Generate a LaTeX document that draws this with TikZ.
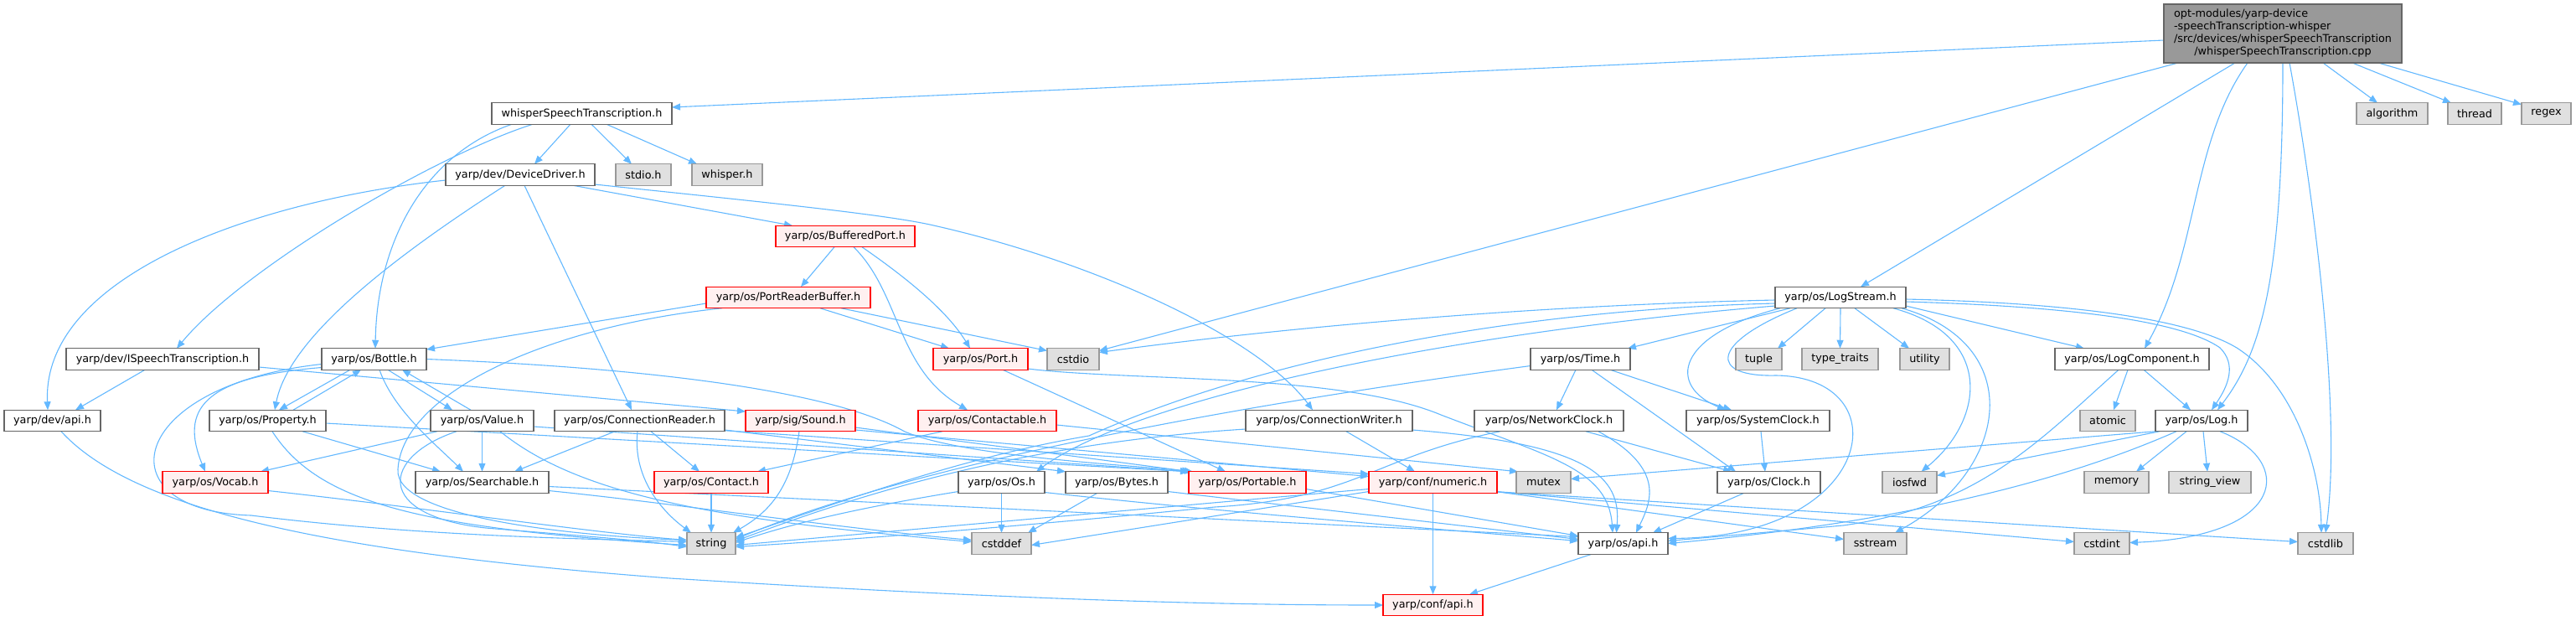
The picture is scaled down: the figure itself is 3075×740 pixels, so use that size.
\documentclass[tikz,border=0pt]{standalone}
\usepackage{fontspec}
\newfontfamily\djv{DejaVu Sans}
\usetikzlibrary{arrows.meta,calc}
\pgfdeclarelayer{edges}
\pgfsetlayers{edges,main}
\definecolor{eb}{HTML}{63B8FF}
\definecolor{gA}{HTML}{666666}
\definecolor{gB}{HTML}{999999}
\definecolor{gC}{HTML}{E0E0E0}
\definecolor{rf}{HTML}{FFF0F0}
\definecolor{rb}{HTML}{FF0000}
\tikzset{
  nbase/.style={rectangle, line width=1.2pt, minimum height=25.5pt, inner sep=0pt, outer sep=0pt,
    font=\djv\fontsize{12.8}{15}\selectfont, text=black},
  nd/.style={nbase, draw=gA, fill=white},
  ext/.style={nbase, draw=gB, fill=gC},
  trn/.style={nbase, draw=rb, fill=rf},
  edg/.style={draw=eb, line width=1.1pt, -{Triangle[length=10pt,width=8pt]}},
}
\begin{document}
\begin{tikzpicture}[x=1pt,y=-1pt]
\useasboundingbox (0,0) rectangle (3075,740);
% nodes
\node[nbase, draw=gA, fill=gB, minimum width=284pt, minimum height=70pt] (main) at (2725,40)
 {\begin{tabular}{@{}l@{}}opt-modules/yarp-device\\-speechTranscription-whisper\\/src/devices/whisperSpeechTranscription\\\multicolumn{1}{@{}c@{}}{/whisperSpeechTranscription.cpp}\end{tabular}};
\node[nd, minimum width=215pt] (wst) at (694.5,135.5) {whisperSpeechTranscription.h};
\node[ext, minimum width=85pt] (algorithm) at (2855.5,135.5) {algorithm};
\node[ext, minimum width=64pt] (thread) at (2954,135.5) {thread};
\node[ext, minimum width=59pt] (regex) at (3039.5,135.5) {regex};
\node[nd, minimum width=178pt] (DD) at (621,208.5) {yarp/dev/DeviceDriver.h};
\node[ext, minimum width=66pt] (stdio) at (768,208.5) {stdio.h};
\node[ext, minimum width=84pt] (whisper) at (868,208.5) {whisper.h};
\node[trn, minimum width=166pt] (BP) at (1009,282) {yarp/os/BufferedPort.h};
\node[trn, minimum width=196pt] (PRB) at (941,355) {yarp/os/PortReaderBuffer.h};
\node[nd, minimum width=156pt] (LS) at (2197,355) {yarp/os/LogStream.h};
\node[nd, minimum width=230pt] (IST) at (194,428.5) {yarp/dev/ISpeechTranscription.h};
\node[nd, minimum width=125pt] (Bottle) at (446.5,428.5) {yarp/os/Bottle.h};
\node[trn, minimum width=113pt] (Port) at (1170.5,428.5) {yarp/os/Port.h};
\node[ext, minimum width=62pt] (cstdio) at (1281,428.5) {cstdio};
\node[nd, minimum width=119pt] (Time) at (1886.5,428.5) {yarp/os/Time.h};
\node[ext, minimum width=55pt] (tuple) at (2099.5,428.5) {tuple};
\node[ext, minimum width=91pt] (tt) at (2196.5,428.5) {type\_traits};
\node[ext, minimum width=59pt] (utility) at (2297.5,428.5) {utility};
\node[nd, minimum width=184pt] (LC) at (2545,428.5) {yarp/os/LogComponent.h};
\node[nd, minimum width=115pt] (devapi) at (62.5,502) {yarp/dev/api.h};
\node[nd, minimum width=139pt] (Property) at (319.5,502) {yarp/os/Property.h};
\node[nd, minimum width=123pt] (Value) at (575.5,502) {yarp/os/Value.h};
\node[nd, minimum width=203pt] (CR) at (763.5,502) {yarp/os/ConnectionReader.h};
\node[trn, minimum width=131pt] (Sound) at (955.5,502) {yarp/sig/Sound.h};
\node[trn, minimum width=165pt] (Ctb) at (1178.5,502) {yarp/os/Contactable.h};
\node[nd, minimum width=199pt] (CW) at (1586.5,502) {yarp/os/ConnectionWriter.h};
\node[nd, minimum width=178pt] (NC) at (1849,502) {yarp/os/NetworkClock.h};
\node[nd, minimum width=171pt] (SC) at (2098.5,502) {yarp/os/SystemClock.h};
\node[ext, minimum width=66pt] (atomic) at (2516,502) {atomic};
\node[nd, minimum width=110pt] (Log) at (2628,502) {yarp/os/Log.h};
\node[trn, minimum width=126pt] (Vocab) at (257,575.5) {yarp/os/Vocab.h};
\node[nd, minimum width=159pt] (Srch) at (575.5,575.5) {yarp/os/Searchable.h};
\node[trn, minimum width=136pt] (Contact) at (849,575.5) {yarp/os/Contact.h};
\node[nd, minimum width=103pt] (Os) at (1195.5,575.5) {yarp/os/Os.h};
\node[nd, minimum width=122pt] (Bytes) at (1333,575.5) {yarp/os/Bytes.h};
\node[trn, minimum width=140pt] (Portable) at (1489,575.5) {yarp/os/Portable.h};
\node[trn, minimum width=153pt] (numeric) at (1710.5,575.5) {yarp/conf/numeric.h};
\node[ext, minimum width=65pt] (mutex) at (1842.5,575.5) {mutex};
\node[nd, minimum width=123pt] (Clock) at (2111.5,575.5) {yarp/os/Clock.h};
\node[ext, minimum width=65pt] (iosfwd) at (2279.5,575.5) {iosfwd};
\node[ext, minimum width=77pt] (memory) at (2526.5,575.5) {memory};
\node[ext, minimum width=98pt] (sv) at (2638,575.5) {string\_view};
\node[ext, minimum width=58pt] (string) at (849,648.5) {string};
\node[ext, minimum width=71pt] (cstddef) at (1195.5,648.5) {cstddef};
\node[nd, minimum width=107pt] (osapi) at (1937.5,648.5) {yarp/os/api.h};
\node[ext, minimum width=75pt] (sstream) at (2238.5,648.5) {sstream};
\node[ext, minimum width=66pt] (cstdint) at (2509,648.5) {cstdint};
\node[ext, minimum width=66pt] (cstdlib) at (2776,648.5) {cstdlib};
\node[trn, minimum width=119pt] (confapi) at (1710.5,722) {yarp/conf/api.h};
% edges
\begin{pgfonlayer}{edges}
% main
\draw[edg] ($(main.west)+(0,8)$) -- ($(wst.east)+(0,-7.5)$);
\draw[edg] ($(main.south)+(48,0)$) -- ($(algorithm.north)+(-17.5,0)$);
\draw[edg] ($(main.south)+(83,0)$) -- ($(thread.north west)+(4,0)$);
\draw[edg] ($(main.south)+(114,0)$) -- ($(regex.north west)+(0,2)$);
\draw[edg] ($(main.south)+(-125,0)$) -- ($(cstdio.east)+(0,-10)$);
\draw[edg] ($(main.south)+(-57,0)$) -- ($(LS.north)+(24,0)$);
\draw[edg] ($(main.south)+(-42,0)$) .. controls (2615,170) and (2625,300) .. ($(LC.north)+(15,0)$);
\draw[edg] (main.south) .. controls (2725,330) and (2700,420) .. ($(Log.north)+(19,0)$);
\draw[edg] ($(main.south)+(8,0)$) .. controls (2765,250) and (2795,500) .. (cstdlib.north);
% wst
\draw[edg] ($(wst.south)+(-13.5,0)$) -- ($(DD.north)+(17,0)$);
\draw[edg] ($(wst.south)+(11.5,0)$) -- ($(stdio.north)+(-14,0)$);
\draw[edg] ($(wst.south)+(29.5,0)$) -- ($(whisper.north west)+(6,0)$);
\draw[edg] ($(wst.south)+(-58.5,0)$) .. controls (520,185) and (290,320) .. ($(IST.north)+(17,0)$);
\draw[edg] ($(wst.south)+(-83.5,0)$) .. controls (505,185) and (450,290) .. ($(Bottle.north)+(1.5,0)$);
% DeviceDriver
\draw[edg] ($(DD.west)+(0,6.5)$) .. controls (300,240) and (50,330) .. ($(devapi.north)+(-5.5,0)$);
\draw[edg] ($(DD.south)+(-18,0)$) .. controls (480,300) and (345,400) .. ($(Property.north)+(8.5,0)$);
\draw[edg] ($(DD.south)+(5,0)$) -- ($(CR.north)+(-9.5,0)$);
\draw[edg] ($(DD.south)+(63,0)$) -- ($(BP.north west)+(20,0)$);
\draw[edg] ($(DD.east)+(0,11.5)$) .. controls (900,240) and (1050,255) .. (1110,268) .. controls (1300,310) and (1500,400) .. ($(CW.north)+(-19.5,0)$);
% BufferedPort
\draw[edg] ($(BP.south)+(-13,0)$) -- ($(PRB.north)+(15,0)$);
\draw[edg] ($(BP.south)+(20,0)$) .. controls (1080,330) and (1130,370) .. ($(Port.north)+(-12.5,0)$);
\draw[edg] ($(BP.south)+(10,0)$) .. controls (1075,350) and (1070,440) .. ($(Ctb.north)+(-23.5,0)$);
% PortReaderBuffer
\draw[edg] ($(PRB.west)+(0,7)$) -- ($(Bottle.east)+(0,-11.5)$);
\draw[edg] ($(PRB.south)+(-79,0)$) .. controls (650,390) and (480,470) .. (475,560) .. controls (470,620) and (700,640) .. ($(string.west)+(0,-4)$);
\draw[edg] ($(PRB.south)+(38,0)$) -- ($(Port.north west)+(19,0)$);
\draw[edg] ($(PRB.south)+(63,0)$) -- ($(cstdio.west)+(0,-10)$);
% ISpeechTranscription
\draw[edg] ($(IST.south)+(-21,0)$) -- ($(devapi.north)+(27.5,0)$);
\draw[edg] ($(IST.east)+(0,9.5)$) -- ($(Sound.west)+(0,-11)$);
% dev/api
\draw[edg] ($(devapi.south)+(10.5,0)$) .. controls (160,610) and (400,660) .. (800,690) .. controls (1200,715) and (1450,722) .. (confapi.west);
% Bottle
\draw[edg] ($(Bottle.south)+(-28.5,0)$) -- ($(Property.north)+(13.5,0)$);
\draw[edg] ($(Property.north)+(30.5,0)$) -- ($(Bottle.south)+(-15.5,0)$);
\draw[edg] ($(Bottle.south)+(16.5,0)$) -- ($(Value.north)+(-35.5,0)$);
\draw[edg] ($(Value.north)+(-13.5,0)$) -- ($(Bottle.south)+(33.5,0)$);
\draw[edg] ($(Bottle.west)+(0,10)$) .. controls (240,450) and (215,490) .. ($(Vocab.north)+(-12,0)$);
\draw[edg] ($(Bottle.south)+(6.5,0)$) .. controls (470,490) and (520,530) .. ($(Srch.north)+(-22.5,0)$);
\draw[edg] (Bottle.east) .. controls (800,440) and (1000,470) .. (1080,515) .. controls (1150,545) and (1350,555) .. ($(Portable.north west)+(5,0)$);
\draw[edg] ($(Bottle.west)+(0,6)$) .. controls (150,460) and (120,610) .. (300,615) .. controls (500,640) and (700,643) .. ($(string.west)+(0,-2)$);
% Property
\draw[edg] ($(Property.south)+(41.5,0)$) -- ($(Srch.north west)+(30,0)$);
\draw[edg] ($(Property.south)+(5.5,0)$) .. controls (380,600) and (500,630) .. ($(string.west)+(0,2)$);
\draw[edg] ($(Property.east)+(0,3)$) -- (Portable.north west);
% Value
\draw[edg] ($(Value.south)+(-53.5,0)$) -- ($(Vocab.north east)+(-9,0)$);
\draw[edg] (Value.south) -- (Srch.north);
\draw[edg] ($(Value.south)+(-30.5,0)$) .. controls (455,545) and (445,615) .. (580,630) .. controls (700,640) and (760,644) .. ($(string.west)+(0,4)$);
\draw[edg] ($(Value.east)+(0,7)$) -- (Portable.north west);
\draw[edg] ($(Value.south)+(21.5,0)$) .. controls (690,590) and (850,620) .. ($(cstddef.west)+(0,-2)$);
% Vocab
\draw[edg] ($(Vocab.east)+(0,10)$) .. controls (500,605) and (700,635) .. ($(string.west)+(0,-4)$);
% Searchable
\draw[edg] ($(Srch.east)+(0,5)$) -- ($(osapi.west)+(0,-8)$);
\draw[edg] ($(Srch.east)+(0,10)$) .. controls (800,600) and (1000,630) .. ($(cstddef.west)+(0,-4)$);
% ConnectionReader
\draw[edg] ($(CR.south)+(13.5,0)$) -- ($(Contact.north)+(-14,0)$);
\draw[edg] ($(CR.south)+(-2.5,0)$) .. controls (755,570) and (790,610) .. ($(string.north west)+(5,0)$);
\draw[edg] ($(CR.south)+(-29.5,0)$) -- ($(Srch.north)+(38.5,0)$);
\draw[edg] ($(CR.east)+(0,11)$) -- (Bytes.north west);
\draw[edg] ($(CR.south east)+(0,-1)$) -- ($(numeric.west)+(0,-10)$);
% Sound
\draw[edg] ($(Sound.south)+(-1.5,0)$) .. controls (945,580) and (920,610) .. ($(string.north east)+(-3,0)$);
\draw[edg] ($(Sound.east)+(0,8)$) -- ($(Portable.north west)+(2,0)$);
\draw[edg] ($(Sound.east)+(0,11)$) -- ($(numeric.west)+(0,-7)$);
% Contactable
\draw[edg] ($(Ctb.south)+(-53.5,0)$) -- ($(Contact.north east)+(-13,0)$);
\draw[edg] ($(Ctb.east)+(0,5)$) -- ($(mutex.north west)+(2,0)$);
% ConnectionWriter
\draw[edg] ($(CW.south)+(20.5,0)$) -- ($(numeric.north)+(-21.5,0)$);
\draw[edg] ($(CW.west)+(0,10)$) .. controls (1200,530) and (1000,600) .. ($(string.east)+(0,-3)$);
\draw[edg] ($(CW.east)+(0,11)$) .. controls (1900,530) and (1935,570) .. ($(osapi.north)+(-8,0)$);
% Port
\draw[edg] ($(Port.south)+(26.5,0)$) -- ($(Portable.north)+(-26,0)$);
\draw[edg] ($(Port.east)+(0,11.5)$) .. controls (1350,455) and (1600,445) .. (1720,495) .. controls (1850,545) and (1920,560) .. ($(osapi.north)+(-12.5,0)$);
% Contact, Os, Bytes, Portable
\draw[edg] (Contact.south) -- (string.north);
\draw[edg] ($(Os.west)+(0,11)$) .. controls (1000,610) and (930,630) .. ($(string.east)+(0,-1)$);
\draw[edg] (Os.south) -- (cstddef.north);
\draw[edg] ($(Os.east)+(0,12)$) .. controls (1450,610) and (1700,630) .. ($(osapi.west)+(0,-3)$);
\draw[edg] ($(Bytes.south)+(-23,0)$) -- ($(cstddef.north east)+(-4,0)$);
\draw[edg] ($(Bytes.east)+(0,11)$) -- ($(osapi.west)+(0,-5)$);
\draw[edg] ($(Portable.east)+(0,8)$) -- ($(osapi.west)+(0,-9)$);
% numeric
\draw[edg] (numeric.south) -- (confapi.north);
\draw[edg] ($(numeric.west)+(0,8)$) -- ($(string.east)+(0,2)$);
\draw[edg] ($(numeric.west)+(0,11)$) -- ($(cstddef.east)+(0,2)$);
\draw[edg] ($(numeric.south east)+(0,-1.5)$) -- ($(sstream.west)+(0,-5)$);
\draw[edg] ($(numeric.south east)+(0,-1.5)$) -- ($(cstdint.west)+(0,-2)$);
\draw[edg] ($(numeric.south east)+(0,-1.5)$) -- ($(cstdlib.west)+(0,-2)$);
% Time
\draw[edg] ($(Time.south)+(-5.5,0)$) -- ($(NC.north)+(9,0)$);
\draw[edg] ($(Time.south)+(35.5,0)$) -- ($(SC.north)+(-31.5,0)$);
\draw[edg] ($(Time.south)+(13.5,0)$) -- ($(Clock.north)+(-39.5,0)$);
\draw[edg] ($(Time.west)+(0,8)$) .. controls (1500,480) and (1100,550) .. ($(string.east)+(0,-5)$);
% NetworkClock
\draw[edg] ($(NC.south)+(44,0)$) -- ($(Clock.north)+(-44.5,0)$);
\draw[edg] ($(NC.south)+(59,0)$) .. controls (1990,560) and (1970,600) .. ($(osapi.north)+(15.5,0)$);
\draw[edg] ($(NC.south)+(-58,0)$) .. controls (1640,545) and (1620,595) .. (1450,605) .. controls (1200,630) and (1000,645) .. ($(string.east)+(0,4)$);
% SystemClock, Clock, os/api
\draw[edg] ($(SC.south)+(3.5,0)$) -- ($(Clock.north)+(-4.5,0)$);
\draw[edg] ($(Clock.south)+(-29.5,0)$) -- ($(osapi.north east)+(-18,0)$);
\draw[edg] ($(osapi.south)+(-37.5,0)$) -- ($(confapi.north east)+(-16,0)$);
% LogStream
\draw[edg] ($(LS.south)+(-60,0)$) -- ($(Time.north east)+(-3,0)$);
\draw[edg] ($(LS.south)+(-18,0)$) -- ($(tuple.north)+(22.5,0)$);
\draw[edg] (LS.south) -- (tt.north);
\draw[edg] ($(LS.south)+(17,0)$) -- ($(utility.north west)+(11,0)$);
\draw[edg] ($(LS.south)+(-72,0)$) .. controls (2000,400) and (1990,460) .. ($(SC.north)+(-38.5,0)$);
\draw[edg] ($(LS.south)+(-52,0)$) .. controls (2040,410) and (2040,450) .. (2120,448) .. controls (2270,450) and (2240,640) .. ($(osapi.east)+(0,-6)$);
\draw[edg] ($(LS.east)+(0,10)$) -- ($(LC.north west)+(35,0)$);
\draw[edg] ($(LS.east)+(0,5)$) .. controls (2450,365) and (2600,380) .. (2650,415) .. controls (2670,435) and (2660,460) .. ($(Log.north)+(12,0)$);
\draw[edg] ($(LS.east)+(0,2)$) .. controls (2500,362) and (2620,385) .. (2670,415) .. controls (2740,460) and (2770,560) .. ($(cstdlib.north)+(-5,0)$);
\draw[edg] ($(LS.south)+(63,0)$) .. controls (2380,400) and (2370,500) .. ($(iosfwd.north)+(14,0)$);
\draw[edg] ($(LS.south)+(73,0)$) .. controls (2420,410) and (2400,560) .. ($(sstream.north)+(23.5,0)$);
\draw[edg] ($(LS.west)+(0,3)$) .. controls (1800,365) and (1500,395) .. ($(cstdio.east)+(0,-8)$);
\draw[edg] ($(LS.west)+(0,7)$) .. controls (1800,370) and (1500,430) .. (1300,520) .. controls (1150,545) and (1000,600) .. ($(string.east)+(0,-7)$);
\draw[edg] ($(LS.west)+(0,10)$) .. controls (1700,400) and (1350,480) .. ($(Os.north east)+(-10,0)$);
% LogComponent
\draw[edg] ($(LC.south)+(-5,0)$) -- ($(atomic.north)+(7,0)$);
\draw[edg] ($(LC.south)+(14,0)$) -- ($(Log.north)+(-13,0)$);
\draw[edg] ($(LC.south)+(-16,0)$) .. controls (2430,530) and (2360,605) .. (2200,627) -- ($(osapi.east)+(0,-3)$);
% Log
\draw[edg] (Log.south west) -- ($(mutex.east)+(0,-4)$);
\draw[edg] ($(Log.south west)+(5,0)$) -- ($(iosfwd.east)+(0,-8)$);
\draw[edg] ($(Log.south)+(-30,0)$) .. controls (2450,580) and (2250,625) .. (osapi.east);
\draw[edg] ($(Log.south)+(-18,0)$) -- ($(memory.north)+(23.5,0)$);
\draw[edg] ($(Log.south)+(2,0)$) -- ($(sv.north)+(-3,0)$);
\draw[edg] ($(Log.south)+(22,0)$) .. controls (2740,550) and (2730,640) .. ($(cstdint.east)+(0,-1)$);
\end{pgfonlayer}
\end{tikzpicture}
\end{document}
